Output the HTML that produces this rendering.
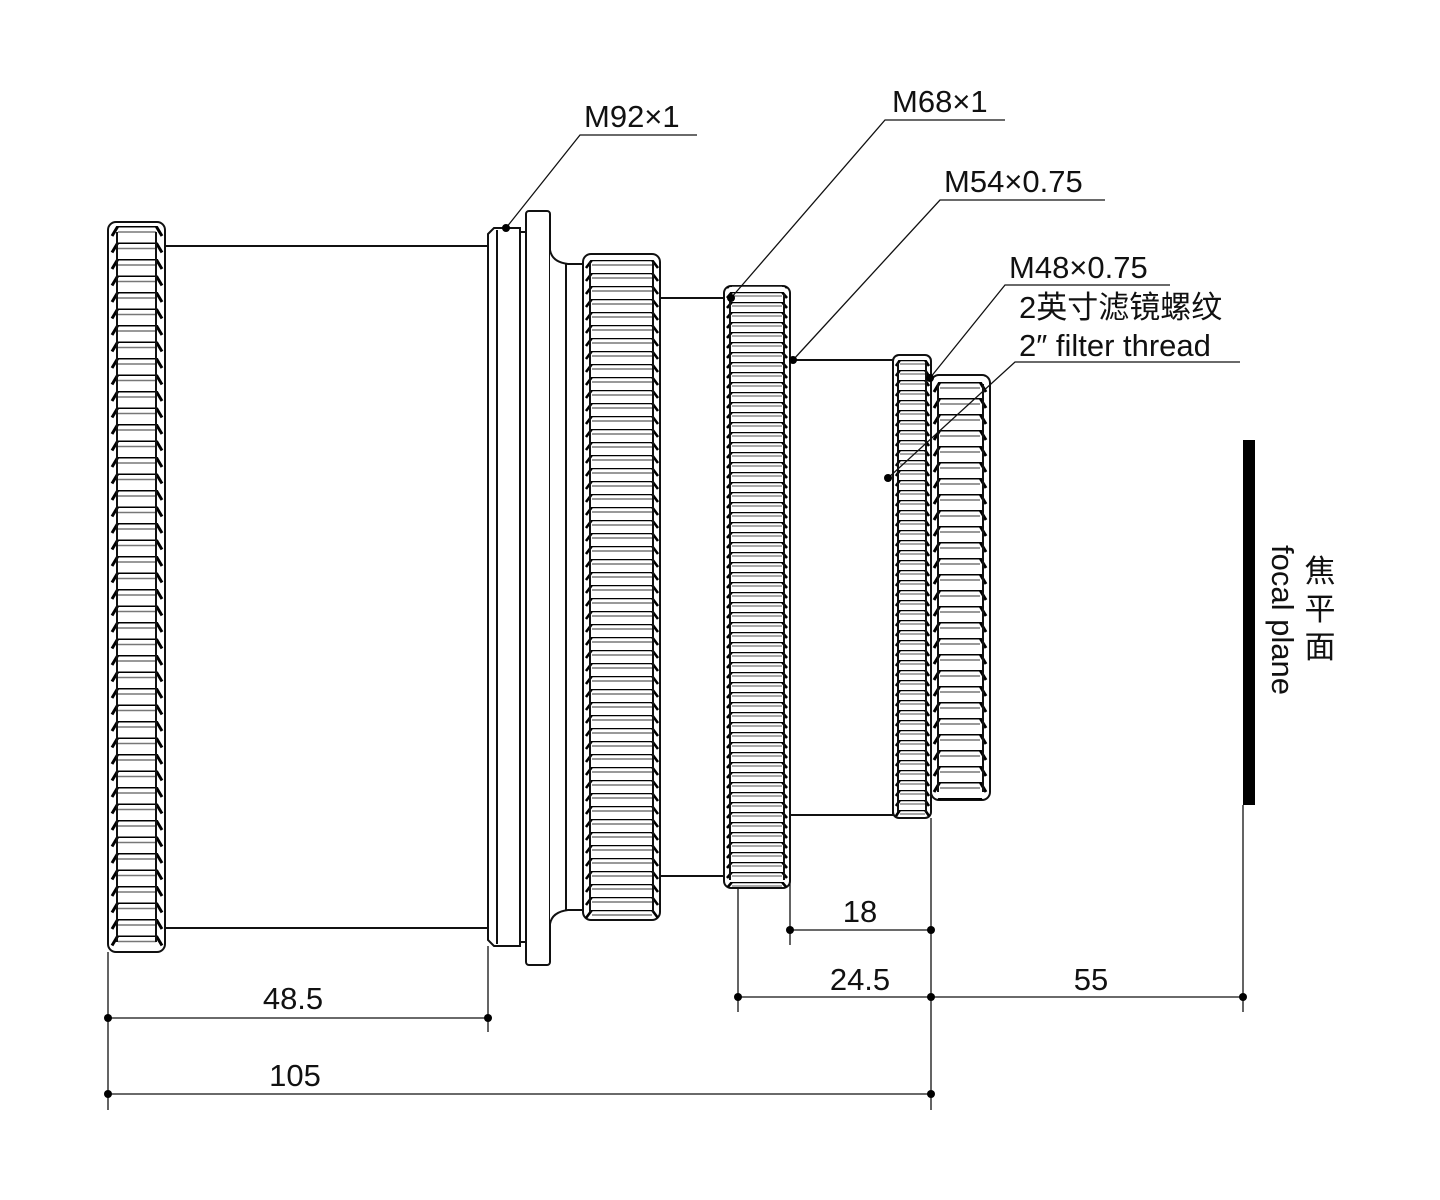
<!DOCTYPE html>
<html><head><meta charset="utf-8"><style>
body{margin:0;background:#fff}
svg{display:block}
text{font-family:"Liberation Sans","Noto Sans CJK SC",sans-serif;fill:#111}
</style></head><body>
<svg width="1440" height="1200" viewBox="0 0 1440 1200" xmlns="http://www.w3.org/2000/svg">
<defs>
<pattern id="pA" patternUnits="userSpaceOnUse" x="0" y="226" width="1440" height="16.5">
 <path d="M112 10 L118 0 L156 0 L162 10" fill="none" stroke="#000" stroke-width="3"/>
 <line x1="118" y1="6" x2="156" y2="6" stroke="#777" stroke-width="1.5"/>
</pattern>
<pattern id="pB" patternUnits="userSpaceOnUse" x="0" y="260" width="1440" height="13">
 <path d="M586 8 L592 0 L652 0 L658 8" fill="none" stroke="#000" stroke-width="2.6"/>
 <line x1="592" y1="5" x2="652" y2="5" stroke="#777" stroke-width="1.5"/>
</pattern>
<pattern id="pC" patternUnits="userSpaceOnUse" x="0" y="292" width="1440" height="10">
 <path d="M727 6 L732 0 L782 0 L787 6" fill="none" stroke="#000" stroke-width="2.6"/>
 <line x1="732" y1="4" x2="782" y2="4" stroke="#777" stroke-width="1.2"/>
</pattern>
<pattern id="pD" patternUnits="userSpaceOnUse" x="0" y="360" width="1440" height="10">
 <path d="M896 6 L900 0 L925 0 L929 6" fill="none" stroke="#000" stroke-width="2.6"/>
 <line x1="900" y1="4" x2="925" y2="4" stroke="#777" stroke-width="1.2"/>
</pattern>
<pattern id="pE" patternUnits="userSpaceOnUse" x="0" y="382" width="1440" height="16">
 <path d="M934 10 L940 0 L980 0 L986 10" fill="none" stroke="#000" stroke-width="3"/>
 <line x1="940" y1="6" x2="980" y2="6" stroke="#777" stroke-width="1.5"/>
</pattern>
</defs>
<g fill="none" stroke="#111" stroke-width="2">
 <rect x="165" y="246" width="323" height="682" fill="#fff"/>
 <path d="M488 234 L494 228 L520 228 L520 946 L494 946 L488 940 Z" fill="#fff"/>
 <line x1="497" y1="230" x2="497" y2="944"/>
 <rect x="526" y="211" width="24" height="754" rx="3" fill="#fff"/>
 <line x1="520" y1="232" x2="526" y2="232"/><line x1="520" y1="942" x2="526" y2="942"/>
 <path d="M550 250 Q552 262 568 264 L583 264 L583 910 L568 910 Q552 912 550 924" fill="#fff"/>
 <line x1="566" y1="264" x2="566" y2="910"/>
 <rect x="660" y="298" width="64" height="578" fill="#fff"/>
 <rect x="790" y="360" width="103" height="455" fill="#fff"/>
 <rect x="108" y="222" width="57" height="730" rx="8" fill="#fff"/>
 <rect x="108" y="222" width="57" height="730" rx="8" fill="url(#pA)" stroke="none"/>
 <line x1="117" y1="232" x2="117" y2="942"/><line x1="156" y1="232" x2="156" y2="942"/>
 <rect x="583" y="254" width="77" height="666" rx="8" fill="#fff"/>
 <rect x="583" y="254" width="77" height="666" rx="8" fill="url(#pB)" stroke="none"/>
 <line x1="590" y1="262" x2="590" y2="912"/><line x1="653" y1="262" x2="653" y2="912"/>
 <rect x="724" y="286" width="66" height="602" rx="7" fill="#fff"/>
 <rect x="724" y="286" width="66" height="602" rx="7" fill="url(#pC)" stroke="none"/>
 <line x1="730" y1="294" x2="730" y2="880"/><line x1="784" y1="294" x2="784" y2="880"/>
 <rect x="893" y="355" width="38" height="463" rx="6" fill="#fff"/>
 <rect x="893" y="355" width="38" height="463" rx="6" fill="url(#pD)" stroke="none"/>
 <line x1="898" y1="362" x2="898" y2="812"/><line x1="926" y1="362" x2="926" y2="812"/>
 <rect x="931" y="375" width="59" height="425" rx="8" fill="#fff"/>
 <rect x="931" y="375" width="59" height="425" rx="8" fill="url(#pE)" stroke="none"/>
 <line x1="938" y1="384" x2="938" y2="792"/><line x1="983" y1="384" x2="983" y2="792"/>
</g>
<rect x="1243" y="440" width="12" height="365" fill="#000"/>
<g stroke="#111" stroke-width="1.3" fill="none">
 <line x1="108" y1="952" x2="108" y2="1110"/>
 <line x1="488" y1="946" x2="488" y2="1032"/>
 <line x1="738" y1="888" x2="738" y2="1012"/>
 <line x1="790" y1="815" x2="790" y2="945"/>
 <line x1="931" y1="818" x2="931" y2="1110"/>
 <line x1="1243" y1="805" x2="1243" y2="1012"/>
 <line x1="108" y1="1018" x2="488" y2="1018"/>
 <line x1="108" y1="1094" x2="931" y2="1094"/>
 <line x1="738" y1="997" x2="1243" y2="997"/>
 <line x1="790" y1="930" x2="931" y2="930"/>
 <polyline points="697,135 580,135 506,228"/>
 <polyline points="1005,120 885,120 731,298"/>
 <polyline points="1105,200 940,200 793,360"/>
 <polyline points="1170,285 1005,285 930,378"/>
 <polyline points="1240,362 1015,362 888,478"/>
</g>
<g fill="#000">
 <circle cx="108" cy="1018" r="4"/><circle cx="488" cy="1018" r="4"/>
 <circle cx="108" cy="1094" r="4"/><circle cx="931" cy="1094" r="4"/>
 <circle cx="738" cy="997" r="4"/><circle cx="931" cy="997" r="4"/><circle cx="1243" cy="997" r="4"/>
 <circle cx="790" cy="930" r="4"/><circle cx="931" cy="930" r="4"/>
 <circle cx="506" cy="228" r="4"/><circle cx="731" cy="298" r="4"/><circle cx="793" cy="360" r="4"/>
 <circle cx="930" cy="378" r="4"/><circle cx="888" cy="478" r="4"/>
</g>
<g font-size="31">
 <text x="584" y="127">M92×1</text>
 <text x="892" y="112">M68×1</text>
 <text x="944" y="192">M54×0.75</text>
 <text x="1009" y="278">M48×0.75</text>
 <text x="1019" y="318">2英寸滤镜螺纹</text>
 <text x="1019" y="356">2″ filter thread</text>
 <text x="293" y="1009" text-anchor="middle">48.5</text>
 <text x="295" y="1086" text-anchor="middle">105</text>
 <text x="860" y="990" text-anchor="middle">24.5</text>
 <text x="1091" y="990" text-anchor="middle">55</text>
 <text x="860" y="922" text-anchor="middle">18</text>
 <text transform="translate(1272,545) rotate(90)">focal plane</text>
 <text x="1320" y="582" text-anchor="middle">焦</text>
 <text x="1320" y="620" text-anchor="middle">平</text>
 <text x="1320" y="658" text-anchor="middle">面</text>
</g>
</svg>
</body></html>
